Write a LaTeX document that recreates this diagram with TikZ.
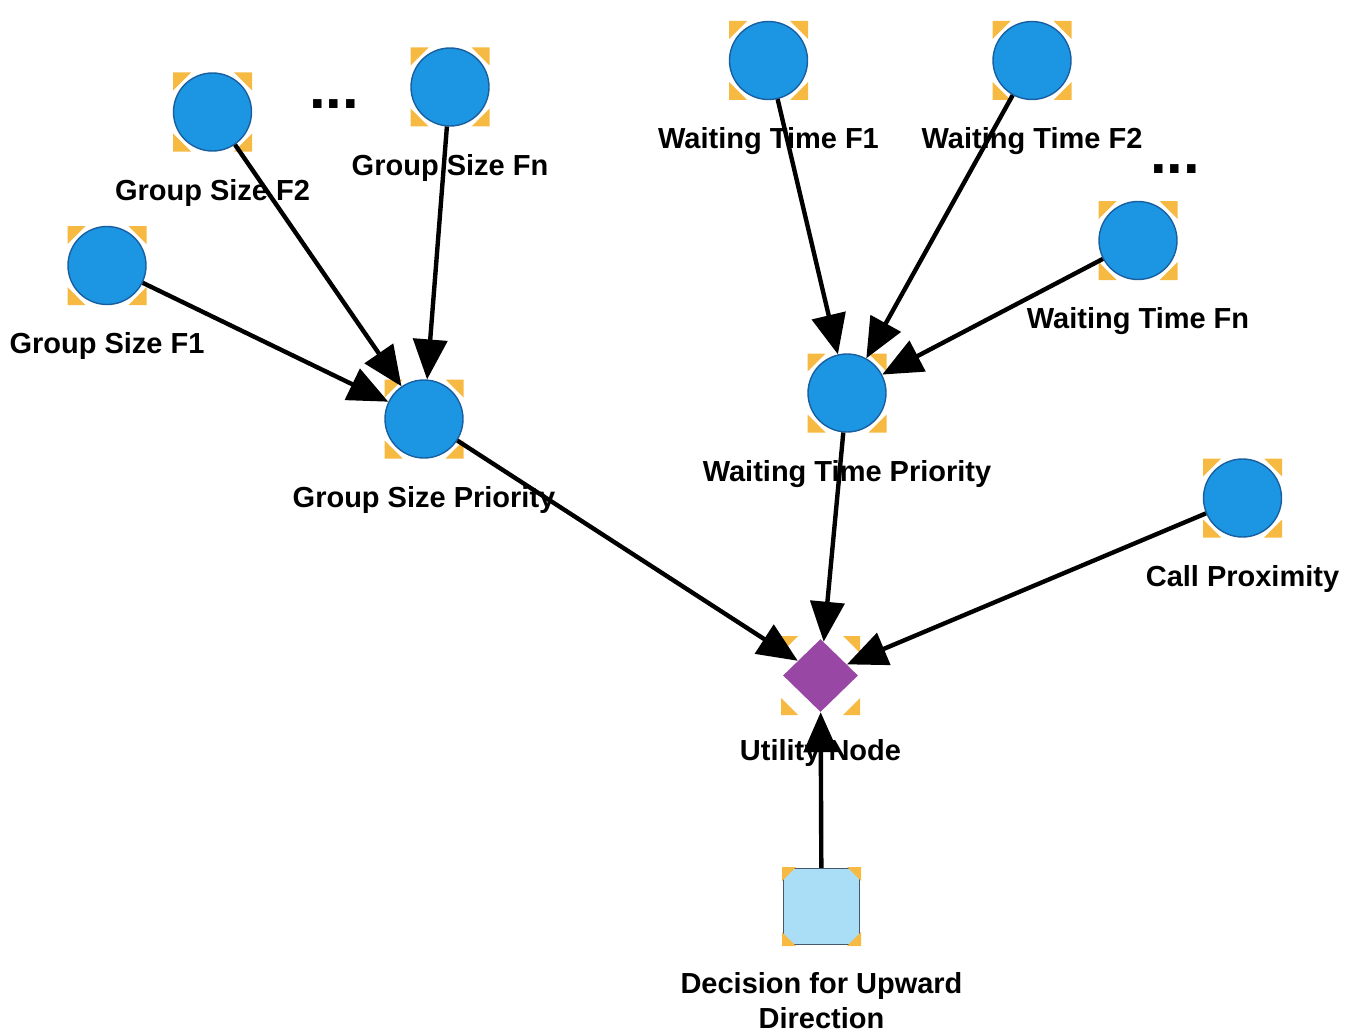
\documentclass[tikz,border=0pt]{standalone}
\usepackage{fontspec}
\setmainfont{Liberation Sans}
\usepackage{tikz}
\usetikzlibrary{arrows.meta,shapes.geometric}

\definecolor{chanceblue}{RGB}{28,150,226}
\definecolor{chanceedge}{RGB}{25,95,160}
\definecolor{utilpurple}{RGB}{152,72,164}
\definecolor{decblue}{RGB}{170,222,246}
\definecolor{decedge}{RGB}{70,88,110}
\definecolor{markorange}{RGB}{246,186,66}

\begin{document}
\begin{tikzpicture}

\tikzset{chance/.style={circle, draw=chanceedge, line width=0.8pt, fill=chanceblue,
    minimum size=1.56cm, inner sep=0pt},
  util/.style={diamond, fill=utilpurple, minimum width=1.5cm, minimum height=1.46cm,
    inner sep=0pt},
  decbox/.style={rectangle, draw=decedge, line width=0.8pt, fill=decblue,
    minimum size=1.52cm, inner sep=0pt},
  every label/.style={font=\fontsize{16.5}{20}\selectfont\bfseries, inner sep=0pt,
    yshift=-0.54cm},
  dots/.style={font=\fontsize{34}{34}\selectfont\bfseries, inner sep=0pt},
  corner/.style={fill=markorange},
  myarrow/.style={-{Triangle[length=0.8cm,width=0.68cm]}, line width=2.5pt}}

    \def\hw{0.79} % half side of the corner marks
    \useasboundingbox (0,0) rectangle (27.02,-20.64);

    % Group size part
    \node[chance, label=below:{Group Size F1}] (gsfone) at (2.14,-5.31) {};
    \node[chance, label=below:{Group Size F2}] (gsftwo) at (4.25,-2.24) {};
    \node[chance, label=below:{Group Size Fn}] (gsfn) at (9.00,-1.74) {};
    \node[dots] (gsdots) at (6.68,-2.08) {...};
    \node[chance, label=below:{Group Size Priority}] (gsprio) at (8.48,-8.38) {};

    % Waiting time part
    \node[chance, label=below:{Waiting Time F1}] (wtfone) at (15.37,-1.21) {};
    \node[chance, label=below:{Waiting Time F2}] (wtftwo) at (20.64,-1.21) {};
    \node[dots] (wtdots) at (23.50,-3.38) {...};
    \node[chance, label=below:{Waiting Time Fn}] (wtfn) at (22.76,-4.81) {};
    \node[chance, label=below:{Waiting Time Priority}] (wtprio) at (16.94,-7.86) {};

    % Proximity, utility and decision
    \node[chance, label=below:{Call Proximity}] (callprox) at (24.85,-9.96) {};
    \node[util, label=below:{Utility Node}] (utility) at (16.41,-13.51) {};
    \node[decbox, label={[align=center]below:{Decision for Upward\\Direction}}] (dec) at (16.43,-18.13) {};

    % Corner marks
    \foreach \n/\cl in {gsfone/0.36, gsftwo/0.36, gsfn/0.36, gsprio/0.36, wtfone/0.36,
        wtftwo/0.36, wtfn/0.36, wtprio/0.36, callprox/0.36, utility/0.34, dec/0.28} {
      \begin{scope}[shift={(\n.center)}]
        \foreach \sx/\sy in {1/1, 1/-1, -1/1, -1/-1}
          \fill[corner] (\sx*\hw,\sy*\hw) -- ++(-\sx*\cl,0) -- ++(\sx*\cl,-\sy*\cl) -- cycle;
      \end{scope}
    }

    % Arrows
    \draw[myarrow] (gsfone) -- (gsprio);
    \draw[myarrow] (gsftwo) -- (gsprio);
    \draw[myarrow] (gsfn) -- (gsprio);
    \draw[myarrow] (wtfone) -- (wtprio);
    \draw[myarrow] (wtftwo) -- (wtprio);
    \draw[myarrow] (wtfn) -- (wtprio);
    \draw[myarrow] (gsprio) -- (utility);
    \draw[myarrow] (wtprio) -- (utility);
    \draw[myarrow] (callprox) -- (utility);
    \draw[myarrow] (dec) -- (utility);

\end{tikzpicture}
\end{document}
